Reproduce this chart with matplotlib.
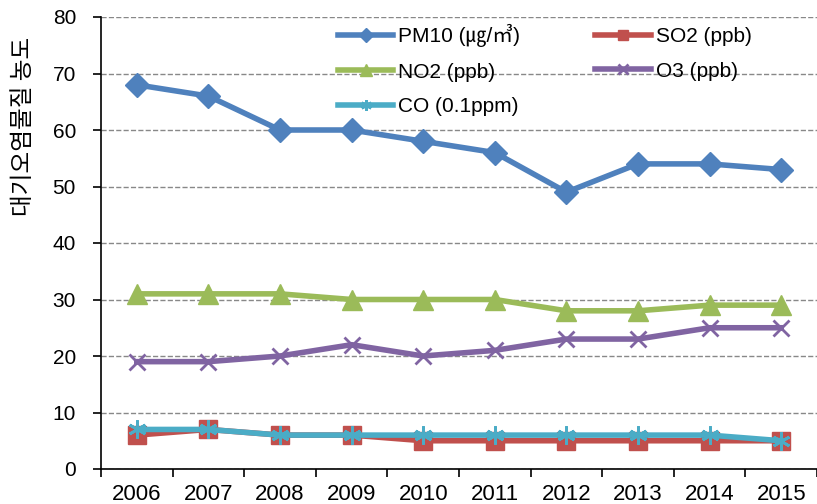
import numpy as np
import matplotlib.pyplot as plt

plt.rcParams['font.family'] = ['Liberation Sans', 'Noto Sans CJK KR']

years = ['2006', '2007', '2008', '2009', '2010', '2011', '2012', '2013', '2014', '2015']
pm10 = [68, 66, 60, 60, 58, 56, 49, 54, 54, 53]
so2 = [6, 7, 6, 6, 5, 5, 5, 5, 5, 5]
no2 = [31, 31, 31, 30, 30, 30, 28, 28, 29, 29]
o3 = [19, 19, 20, 22, 20, 21, 23, 23, 25, 25]
co = [7, 7, 6, 6, 6, 6, 6, 6, 6, 5]

x = np.arange(len(years))

fig = plt.figure(figsize=(8.17, 5.04), dpi=100)
ax = fig.add_axes([101 / 817, 1 - 469 / 504, 1 - 101 / 817, (469 - 17) / 504])

lw = 4
h_pm, = ax.plot(x, pm10, color='#4F81BD', lw=lw, marker='D', ms=12, label='PM10 (㎍/㎥)')
h_so, = ax.plot(x, so2, color='#C0504D', lw=lw, marker='s', ms=13, label='SO2 (ppb)')
h_no, = ax.plot(x, no2, color='#9BBB59', lw=lw, marker='^', ms=14, label='NO2 (ppb)')
h_o3, = ax.plot(x, o3, color='#8064A2', lw=lw, marker='x', ms=11, mew=2, label='O3 (ppb)')
h_co, = ax.plot(x, co, color='#4BACC6', lw=lw, marker=(6, 2, 0), ms=13, mew=2, label='CO (0.1ppm)')

ax.set_ylim(0, 80)
ax.set_xlim(-0.5, 9.39)
ax.set_yticks(range(0, 81, 10))
ax.set_xticks(x)
ax.set_xticklabels(years)
ax.set_xticks(np.arange(-0.5, 10, 1), minor=True)
ax.tick_params(axis='x', which='major', length=0, labelsize=16, pad=11)
ax.tick_params(axis='x', which='minor', length=6, width=1.2, direction='out')
ax.tick_params(axis='y', length=6, width=1.2, labelsize=15, direction='out', pad=12)
ax.yaxis.grid(True, ls='--', color='#888888', lw=1)
ax.set_axisbelow(True)
for s in ['top', 'right']:
    ax.spines[s].set_visible(False)
for s in ['left', 'bottom']:
    ax.spines[s].set_linewidth(1.2)
ax.set_ylabel('대기오염물질 농도', fontsize=17, family=['Noto Sans CJK KR'])
ax.yaxis.set_label_coords(-0.092, 0.757)

order = [h_pm, h_no, h_co, h_so, h_o3]
ax.legend(order, [h.get_label() for h in order],
          ncol=2, frameon=False, fontsize=15, loc='upper left',
          bbox_to_anchor=(338 / 817, 1 - 24 / 504), bbox_transform=fig.transFigure,
          borderpad=0, borderaxespad=0, handlelength=2.65, handletextpad=0.25,
          columnspacing=3.6, labelspacing=0.75, markerscale=0.6)

fig.savefig('out.png', dpi=100)
